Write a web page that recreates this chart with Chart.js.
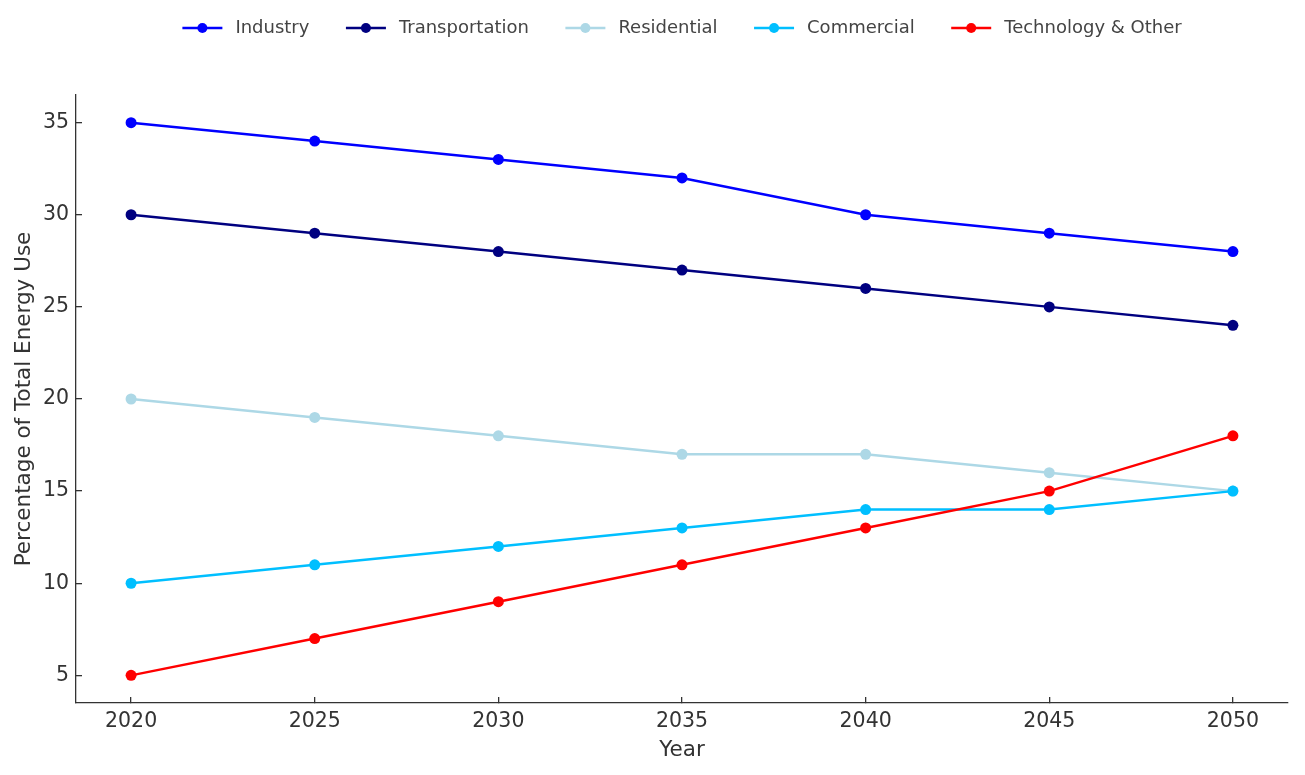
<!DOCTYPE html>
<html>
<head>
<meta charset="utf-8">
<script src="https://cdn.jsdelivr.net/npm/chart.js@4.4.1/dist/chart.umd.min.js"></script>
<style>
  body { margin: 0; background: #fff; }
  #wrap { width: 1305px; height: 775px; }
</style>
</head>
<body>
<div id="wrap"><canvas id="myChart"></canvas></div>
<script>
// data
var years = [2020, 2025, 2030, 2035, 2040, 2045, 2050];
var industry = [35, 34, 33, 32, 30, 29, 28];
var transportation = [30, 29, 28, 27, 26, 25, 24];
var residential = [20, 19, 18, 17, 17, 16, 15];
var commercial = [10, 11, 12, 13, 14, 14, 15];
var technology = [5, 7, 9, 11, 13, 15, 18];
var yTicks = [5, 10, 15, 20, 25, 30, 35];

var seriesNames = ['Industry', 'Transportation', 'Residential', 'Commercial', 'Technology & Other'];
var seriesData = [industry, transportation, residential, commercial, technology];
var seriesColors = ['#0000ff', '#000080', '#add8e6', '#00bfff', '#ff0000'];

var fontFamily = '"DejaVu Sans", sans-serif';
var axisColor = '#333333';

var datasets = seriesNames.map(function (name, i) {
    return {
        label: name,
        data: years.map(function (yr, j) { return {x: yr, y: seriesData[i][j]}; }),
        borderColor: seriesColors[i],
        backgroundColor: seriesColors[i],
        borderWidth: 2.5,
        pointRadius: 5.5,
        pointHoverRadius: 5.5,
        pointBorderWidth: 0,
        // later series sit on top, like the reference
        order: seriesNames.length - i
    };
});

// legend drawn by hand: line + dot swatch, centred over the plot area
var lineLegend = {
    id: 'lineLegend',
    afterDraw: function (chart) {
        var ctx = chart.ctx;
        var area = chart.chartArea;
        var sw = 40, gap = 13, itemGap = 36.5, y = 28;
        ctx.save();
        ctx.font = '18px ' + fontFamily;
        var total = 0;
        chart.data.datasets.forEach(function (d, i) {
            total += sw + gap + ctx.measureText(d.label).width + (i ? itemGap : 0);
        });
        var x = (area.left + area.right) / 2 - total / 2;
        chart.data.datasets.forEach(function (d) {
            ctx.strokeStyle = d.borderColor;
            ctx.lineWidth = 2.5;
            ctx.beginPath();
            ctx.moveTo(x, y);
            ctx.lineTo(x + sw, y);
            ctx.stroke();
            ctx.fillStyle = d.borderColor;
            ctx.beginPath();
            ctx.arc(x + sw / 2, y, 5, 0, Math.PI * 2);
            ctx.fill();
            x += sw + gap;
            ctx.fillStyle = '#444444';
            ctx.textBaseline = 'middle';
            ctx.fillText(d.label, x, y);
            x += ctx.measureText(d.label).width + itemGap;
        });
        ctx.restore();
    }
};

new Chart(document.getElementById('myChart'), {
    type: 'line',
    data: { datasets: datasets },
    plugins: [lineLegend],
    options: {
        responsive: true,
        maintainAspectRatio: false,
        animation: false,
        layout: { padding: { left: 8, right: 17, top: 95, bottom: 6 } },
        plugins: {
            tooltip: { enabled: false },
            legend: { display: false }
        },
        scales: {
            x: {
                type: 'linear',
                min: 2018.5,
                max: 2051.5,
                afterBuildTicks: function (s) { s.ticks = years.map(function (v) { return {value: v}; }); },
                afterFit: function (s) { s.height = 775 - 703 - 6; },
                ticks: {
                    color: axisColor,
                    font: { family: fontFamily, size: 20.5 },
                    padding: 12,
                    maxRotation: 0,
                    callback: function (v) { return String(v); }
                },
                // inward tick marks
                grid: { display: true, drawOnChartArea: false, drawTicks: true, tickLength: -6, color: axisColor, lineWidth: 1.3 },
                border: { display: true, color: axisColor, width: 1.3 },
                title: { display: true, text: 'Year', color: axisColor, font: { family: fontFamily, size: 21.5 }, padding: { top: 0, bottom: 6 } }
            },
            y: {
                min: 3.5,
                max: 36.5,
                afterBuildTicks: function (s) { s.ticks = yTicks.map(function (v) { return {value: v}; }); },
                afterFit: function (s) { s.width = 76 - 8; },
                ticks: {
                    color: axisColor,
                    font: { family: fontFamily, size: 20.5 },
                    padding: 13
                },
                grid: { display: true, drawOnChartArea: false, drawTicks: true, tickLength: -6, color: axisColor, lineWidth: 1.3 },
                border: { display: true, color: axisColor, width: 1.3 },
                title: { display: true, text: 'Percentage of Total Energy Use', color: axisColor, font: { family: fontFamily, size: 21.5 }, padding: { bottom: 2 } }
            }
        }
    }
});
</script>
</body>
</html>
